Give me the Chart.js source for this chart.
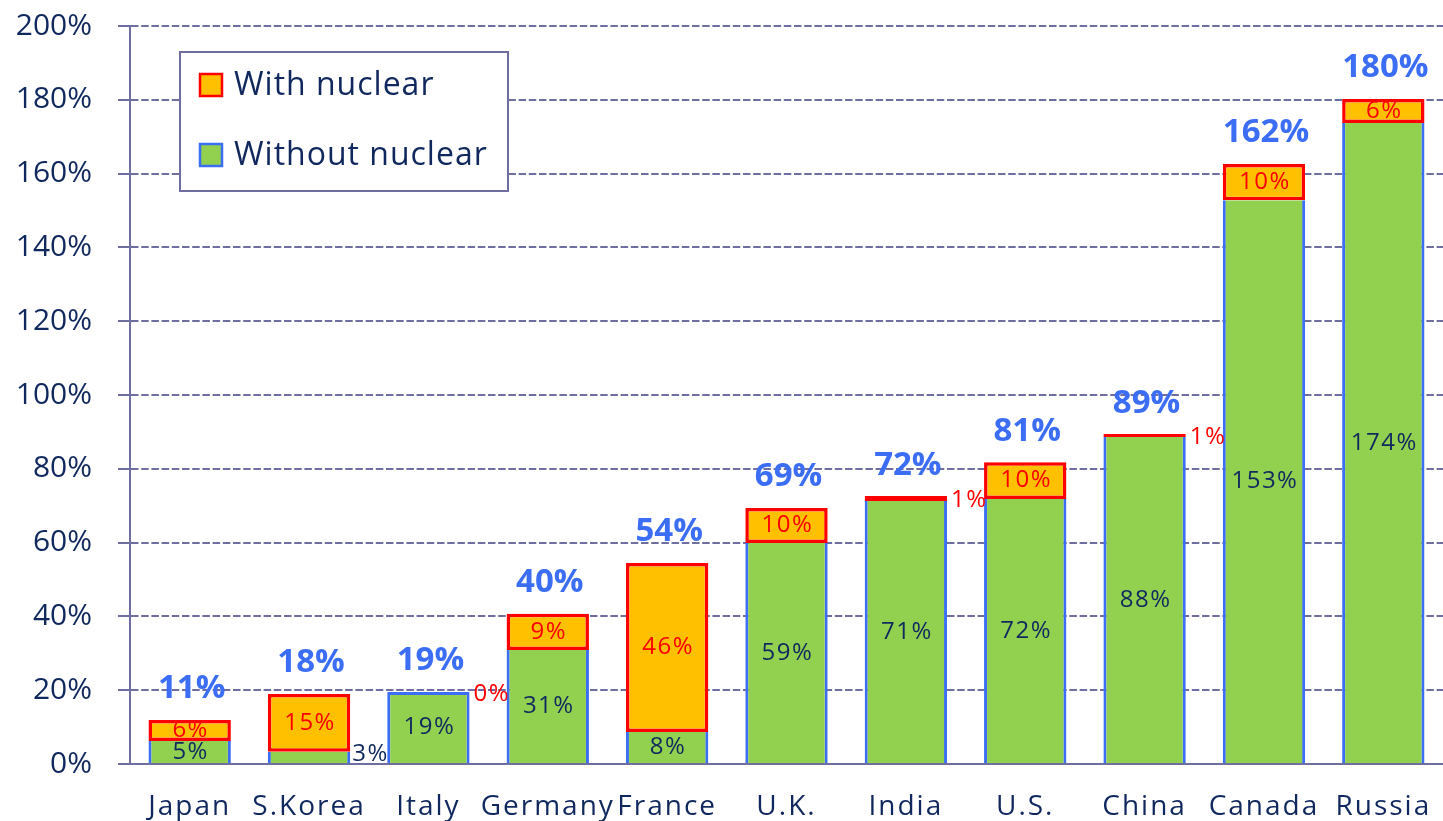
<!DOCTYPE html>
<html>
<head>
<meta charset="utf-8">
<script src="https://cdn.jsdelivr.net/npm/chart.js@4.4.1/dist/chart.umd.min.js"></script>
<style>
  html, body { margin: 0; padding: 0; background: #ffffff; }
  #wrap { width: 1443px; height: 821px; position: relative; }
</style>
</head>
<body>
<div id="wrap"><canvas id="c" width="1443" height="821"></canvas></div>
<script>
const categories = ['Japan', 'S.Korea', 'Italy', 'Germany', 'France', 'U.K.', 'India', 'U.S.', 'China', 'Canada', 'Russia'];
const withoutNuclear = [6.2, 3.3, 19.5, 30.9, 8.7, 59.9, 71.3, 71.8, 88.6, 152.8, 173.7];
const nuclearAdded = [5.7, 15.7, 0, 9.8, 45.8, 9.5, 1.3, 10.0, 0.8, 9.8, 6.5];
const withoutLabels = ['5%', '3%', '19%', '31%', '8%', '59%', '71%', '72%', '88%', '153%', '174%'];
const nuclearLabels = ['6%', '15%', '0%', '9%', '46%', '10%', '1%', '10%', '1%', '10%', '6%'];
const totalLabels = ['11%', '18%', '19%', '40%', '54%', '69%', '72%', '81%', '89%', '162%', '180%'];
const legendLabels = ['With nuclear', 'Without nuclear'];

const NAVY = '#10285e';
const AXIS = '#6e6ea0';
const FONT = "'Open Sans', 'DejaVu Sans', sans-serif";

const labelPlugin = {
  id: 'barLabels',
  afterDatasetsDraw(chart) {
    const ctx = chart.ctx;
    const m0 = chart.getDatasetMeta(0);
    const m1 = chart.getDatasetMeta(1);
    ctx.save();
    ctx.textBaseline = 'middle';
    categories.forEach((c, i) => {
      const g = m0.data[i];
      const o = m1.data[i];
      const half = g.width / 2;
      ctx.letterSpacing = '1.5px';
      ctx.font = '24px ' + FONT;
      ctx.fillStyle = NAVY;
      const gh = Math.abs(g.base - g.y);
      if (gh >= 16) {
        ctx.textAlign = 'center';
        ctx.fillText(withoutLabels[i], g.x + 1, (g.y + g.base) / 2);
      } else {
        ctx.textAlign = 'left';
        ctx.fillText(withoutLabels[i], g.x + half + 2, (g.y + g.base) / 2 - 3);
      }
      ctx.fillStyle = '#ff0000';
      const oh = Math.abs(o.base - o.y);
      if (oh >= 16) {
        ctx.textAlign = 'center';
        ctx.fillText(nuclearLabels[i], o.x + 1, (o.y + o.base) / 2);
      } else {
        ctx.textAlign = 'left';
        ctx.fillText(nuclearLabels[i], o.x + half + 4, (o.y + o.base) / 2 + 2);
      }
      ctx.letterSpacing = '0px';
      ctx.font = 'bold 33px ' + FONT;
      ctx.fillStyle = '#3b6ef5';
      ctx.textAlign = 'center';
      const top = Math.min(o.y, g.y);
      ctx.fillText(totalLabels[i], g.x + 2, top - 31);
    });
    ctx.restore();
    // x-axis tick labels are drawn on a later layer; give them letter spacing
    ctx.letterSpacing = '2px';
  },
  afterDraw(chart) {
    const ctx = chart.ctx;
    ctx.letterSpacing = '0px';
    ctx.save();
    ctx.fillStyle = '#ffffff';
    ctx.fillRect(180, 52, 328, 139);
    ctx.strokeStyle = AXIS;
    ctx.lineWidth = 2;
    ctx.strokeRect(180, 52, 328, 139);
    const ds = [chart.data.datasets[1], chart.data.datasets[0]];
    const ys = [85, 155];
    ds.forEach((d, k) => {
      const y = ys[k];
      ctx.fillStyle = d.backgroundColor;
      ctx.fillRect(200, y - 11, 22, 22);
      ctx.strokeStyle = d.borderColor;
      ctx.lineWidth = 2.5;
      ctx.strokeRect(200, y - 11, 22, 22);
      ctx.fillStyle = NAVY;
      ctx.font = '32px ' + FONT;
      ctx.letterSpacing = '1px';
      ctx.textAlign = 'left';
      ctx.textBaseline = 'middle';
      ctx.fillText(legendLabels[k], 234, y + 1);
    });
    ctx.restore();
    ctx.letterSpacing = '0px';
  }
};

new Chart(document.getElementById('c'), {
  type: 'bar',
  data: {
    labels: categories,
    datasets: [
      {
        label: legendLabels[1],
        data: withoutNuclear,
        backgroundColor: '#92d050',
        borderColor: '#3c6ef5',
        borderSkipped: false,
        borderWidth: (ctx) => nuclearAdded[ctx.dataIndex] > 0
          ? { left: 3, right: 3, top: 0, bottom: 0 }
          : { left: 3, right: 3, top: 3, bottom: 0 },
        barPercentage: 0.69,
        categoryPercentage: 1.0
      },
      {
        label: legendLabels[0],
        data: nuclearAdded,
        backgroundColor: '#ffc000',
        borderColor: '#ff0000',
        borderSkipped: false,
        borderWidth: 3.5,
        barPercentage: 0.69,
        categoryPercentage: 1.0
      }
    ]
  },
  options: {
    responsive: false,
    animation: false,
    layout: { padding: { top: 26, right: 0, left: 0, bottom: 0 } },
    plugins: {
      legend: { display: false },
      tooltip: { enabled: false }
    },
    scales: {
      x: {
        stacked: true,
        grid: { display: false, drawTicks: false },
        border: { display: true, color: AXIS, width: 2 },
        ticks: { z: 1, color: NAVY, font: { family: FONT, size: 28 }, padding: 26, maxRotation: 0, autoSkip: false },
        afterFit(s) { s.height = 57; s.paddingLeft = 0; s.paddingRight = 0; }
      },
      y: {
        stacked: true,
        min: 0,
        max: 200,
        grid: { color: AXIS, lineWidth: 2, tickLength: 12, drawTicks: true, tickBorderDash: [] },
        border: { display: true, color: AXIS, width: 2, dash: [7.5, 2.7] },
        ticks: {
          stepSize: 20,
          color: NAVY,
          padding: 26,
          font: { family: FONT, size: 30 },
          callback: (v) => v + '%'
        },
        afterFit(s) { s.width = 130; s.paddingTop = 0; s.paddingBottom = 0; }
      }
    }
  },
  plugins: [labelPlugin]
});
</script>
</body>
</html>
